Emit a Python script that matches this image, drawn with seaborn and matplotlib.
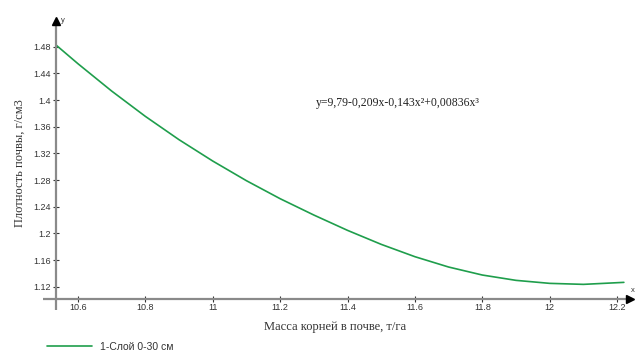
import matplotlib
matplotlib.use("Agg")
import matplotlib.pyplot as plt
import seaborn as sns
import pandas as pd

# ---- data ----
root_mass = [10.535, 10.60, 10.70, 10.80, 10.90, 11.00, 11.10, 11.20, 11.30,
             11.40, 11.50, 11.60, 11.70, 11.80, 11.90, 12.00, 12.10, 12.22]
density = [1.4825, 1.4545, 1.4135, 1.3755, 1.3405, 1.3085, 1.2790, 1.2520,
           1.2275, 1.2045, 1.1835, 1.1650, 1.1495, 1.1375, 1.1295, 1.1250,
           1.1235, 1.1265]
x_ticks = [10.6, 10.8, 11.0, 11.2, 11.4, 11.6, 11.8, 12.0, 12.2]
y_ticks = [1.12, 1.16, 1.20, 1.24, 1.28, 1.32, 1.36, 1.40, 1.44, 1.48]
series_label = "1-Слой 0-30 см"
x_label = "Масса корней в почве, т/га"
y_label = "Плотность почвы, г/см3"
equation = "y=9,79-0,209x-0,143x²+0,00836x³"

df = pd.DataFrame({"x": root_mass, "y": density})

sns.set_theme(style="white")
plt.rcParams["font.family"] = ["Liberation Sans", "DejaVu Sans"]

W, H = 636, 354
fig = plt.figure(figsize=(W / 100, H / 100), dpi=100)
ax_left, ax_right, ax_top, ax_bottom = 56, 636, 15, 299.3
ax = fig.add_axes([ax_left / W, 1 - ax_bottom / H,
                   (ax_right - ax_left) / W, (ax_bottom - ax_top) / H])
ax.set_facecolor("white")

green = "#1f9e4c"
sns.lineplot(data=df, x="x", y="y", ax=ax, color=green, linewidth=1.2,
             label=series_label, legend=False, sort=True)

ax.set_xlim(10.535, 12.256)
ax.set_ylim(1.1011, 1.5275)

for s in ax.spines.values():
    s.set_visible(False)

# axis lines with arrows
axw = ax_right - ax_left
axh = ax_bottom - ax_top
gray = "#8a8a8a"
ax.plot([-13 / axw, 576 / axw], [0, 0], transform=ax.transAxes,
        color=gray, lw=1.6, clip_on=False, solid_capstyle="butt")
ax.plot([0, 0], [-(310 - ax_bottom) / axh, (ax_bottom - 22) / axh],
        transform=ax.transAxes, color=gray, lw=1.6, clip_on=False,
        solid_capstyle="butt")
ax.plot([574 / axw], [0], marker=">", markersize=6, color="black",
        transform=ax.transAxes, clip_on=False)
ax.plot([0], [(ax_bottom - 21) / axh], marker="^", markersize=6,
        color="black", transform=ax.transAxes, clip_on=False)
ax.text(577 / axw, (ax_bottom - 291) / axh, "x", transform=ax.transAxes,
        fontsize=5.5, ha="center", va="center", color="#333333")
ax.text(7 / axw, (ax_bottom - 20) / axh, "y", transform=ax.transAxes,
        fontsize=5.5, ha="center", va="center", color="#333333")

ax.set_xticks(x_ticks)
ax.set_xticklabels([f"{v:g}" for v in x_ticks])
ax.set_yticks(y_ticks)
ax.set_yticklabels([f"{v:g}" for v in y_ticks])
ax.tick_params(axis="both", which="major", direction="inout", length=5,
               width=0.8, color="#333333", labelsize=6.5,
               labelcolor="#333333")
ax.tick_params(axis="x", bottom=True, pad=0.5)
ax.tick_params(axis="y", left=True, pad=1.2)
ax.set_xlabel("")
ax.set_ylabel("")
ax.grid(False)

serif = ["Liberation Serif", "DejaVu Serif"]
fig.text(20 / W, 1 - 163 / H, y_label, rotation=90, ha="center",
         va="center", fontsize=9, family=serif, color="#333333")
fig.text(335 / W, 1 - 327 / H, x_label, ha="center", va="center",
         fontsize=9, family=serif, color="#333333")
fig.text(398 / W, 1 - 103 / H, equation, ha="center", va="center",
         fontsize=8.5, family=serif, color="#222222")

handles, labels = ax.get_legend_handles_labels()
fig.legend(handles, labels, loc="center left",
           bbox_to_anchor=(47 / W, 1 - 347 / H), frameon=False,
           handlelength=4.3, handletextpad=0.75, borderpad=0,
           borderaxespad=0, prop={"size": 7.5}, labelcolor="#333333")

fig.savefig("out.png", dpi=100, facecolor="white")
